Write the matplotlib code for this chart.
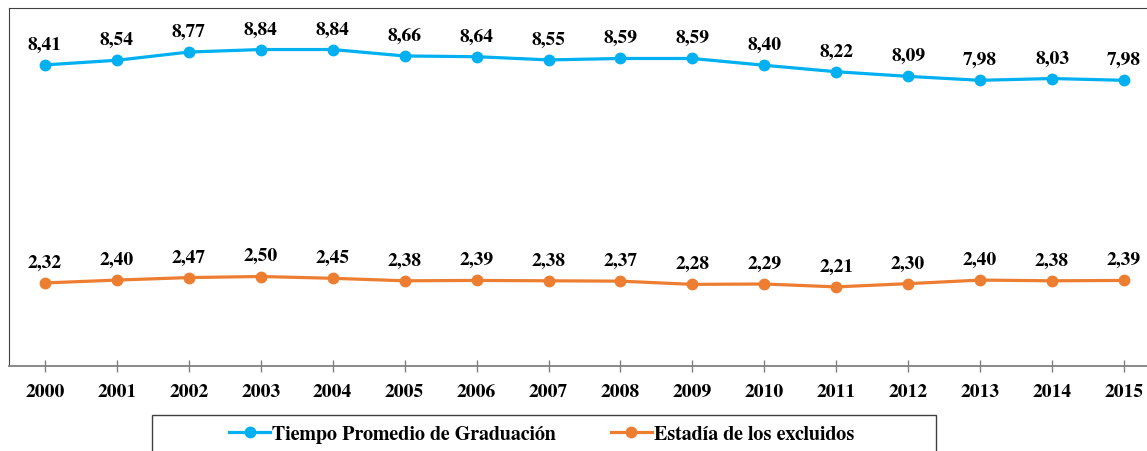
import matplotlib.pyplot as plt
from matplotlib.patches import Rectangle

years = ['2000', '2001', '2002', '2003', '2004', '2005', '2006', '2007',
         '2008', '2009', '2010', '2011', '2012', '2013', '2014', '2015']
tiempo = [8.41, 8.54, 8.77, 8.84, 8.84, 8.66, 8.64, 8.55,
          8.59, 8.59, 8.40, 8.22, 8.09, 7.98, 8.03, 7.98]
estadia = [2.32, 2.40, 2.47, 2.50, 2.45, 2.38, 2.39, 2.38,
           2.37, 2.28, 2.29, 2.21, 2.30, 2.40, 2.38, 2.39]
series_names = ['Tiempo Promedio de Graduación', 'Estadía de los excluidos']
colors = ['#00B0F0', '#ED7D31']

plt.rcParams['font.family'] = ['FreeSerif', 'DejaVu Serif']
plt.rcParams['font.weight'] = 'bold'

W, H = 1147, 452
fig = plt.figure(figsize=(W / 100, H / 100), dpi=100)
ax = fig.add_axes([9 / W, (H - 367) / H, (1160 - 9) / W, (367 - 9) / H])

x = range(len(years))
for vals, name, c in zip([tiempo, estadia], series_names, colors):
    ax.plot(x, vals, color=c, lw=2.3, marker='o', ms=7.5, label=name)
    for xi, v in zip(x, vals):
        ax.annotate(f'{v:.2f}'.replace('.', ','), (xi, v), xytext=(0, 15),
                    textcoords='offset points', ha='center', va='center',
                    fontsize=14, fontweight='bold')

ax.set_xlim(-0.5, 15.5)
ax.set_ylim(0, 10)
ax.set_xticks(list(x))
ax.set_xticklabels(years, fontsize=14, fontweight='bold')
ax.set_yticks([])
ax.tick_params(axis='x', direction='inout', length=8, width=1, color='#808080', pad=8)
for s in ['top', 'left', 'right']:
    ax.spines[s].set_color('#404040')
ax.spines['bottom'].set_color('#808080')
ax.spines['bottom'].set_linewidth(1.3)

# legend box, cut off at the bottom like the original
fig.patches.append(Rectangle((152 / W, -0.1), (936 - 152) / W, 0.1 + (H - 416) / H,
                             transform=fig.transFigure, fill=False,
                             edgecolor='#404040', lw=1))
fig.legend(loc='center left', bbox_to_anchor=(229 / W, (H - 435) / H), ncol=2,
           frameon=False, handlelength=2.05, handletextpad=0.1,
           columnspacing=2.7, borderpad=0, borderaxespad=0,
           prop={'family': ['FreeSerif', 'DejaVu Serif'], 'weight': 'bold', 'size': 14.5})

fig.savefig('out.png', dpi=100)
